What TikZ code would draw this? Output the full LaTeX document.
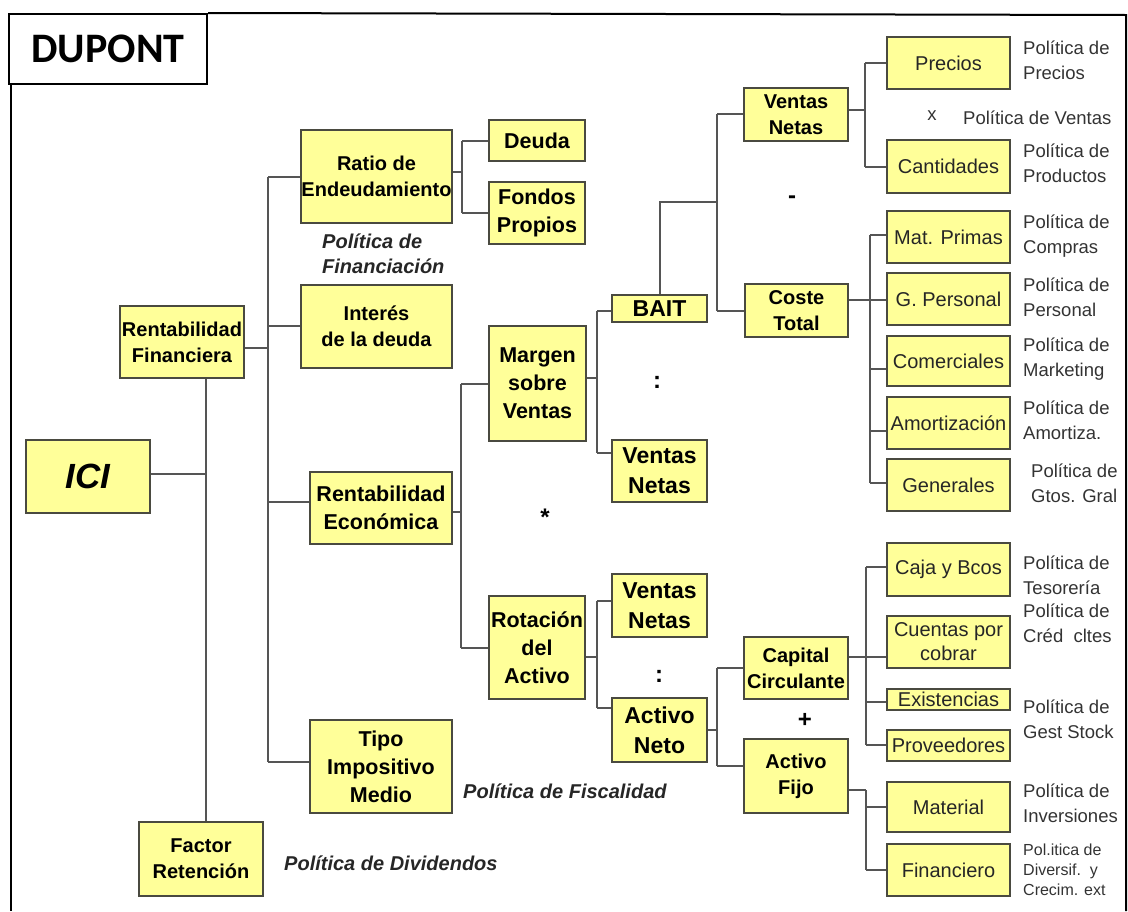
\documentclass[tikz,border=0pt]{standalone}
\usepackage{fontspec}
\setmainfont{Liberation Sans}
\newfontfamily\carlito{Carlito}
\definecolor{boxfill}{HTML}{FFFF99}
\definecolor{boxline}{HTML}{4A4A40}
\definecolor{connc}{HTML}{555555}
\newcommand\bx[7]{\node[#7, minimum width={(#4-#2)*1pt}, minimum height={(#5-#3)*1pt}] (#1) at ({(#2+#4)/2},{(#3+#5)/2}) {#6};}
\begin{document}
\begin{tikzpicture}[x=1pt,y=-1pt,
  yb/.style={draw=boxline, line width=1.4pt, fill=boxfill, inner sep=0pt, align=center, text=black},
  bb/.style={yb, font=\bfseries\fontsize{20}{26}\selectfont},
  bm/.style={yb, font=\bfseries\fontsize{21.5}{28}\selectfont},
  bl/.style={yb, font=\bfseries\fontsize{23}{30}\selectfont},
  rb/.style={yb, font=\fontsize{20}{24}\selectfont, text=black!85},
  conn/.style={draw=connc, line width=1.5pt},
  frame/.style={draw=black, line width=2pt},
  pol/.style={anchor=west, align=left, inner sep=0pt, font=\fontsize{18.5}{25}\selectfont, text=black!80},
  polsmall/.style={anchor=west, align=left, inner sep=0pt, font=\fontsize{16}{20}\selectfont, text=black!80},
  poli/.style={anchor=west, align=left, inner sep=0pt, font=\bfseries\itshape\fontsize{20}{25}\selectfont, text=black!85},
  op/.style={inner sep=0pt, font=\bfseries\fontsize{24}{24}\selectfont}]
\useasboundingbox (0,0) rectangle (1128,911);
% frame
\node[draw=black, line width=2pt, inner sep=0pt, minimum width=198pt, minimum height=70pt, font=\carlito\bfseries\fontsize{42}{42}\selectfont] (dup) at (108,49) {DUPONT};
\draw[frame] (dup.north east) -- (1126,15) -- (1126,911);
\draw[frame] (11,84) -- (11,911);
% boxes
\bx{ici}{26}{440}{150}{513}{\bfseries\itshape\fontsize{35}{35}\selectfont ICI}{yb}
\bx{rf}{120}{306}{244}{378}{Rentabilidad\\Financiera}{bb}
\bx{fr}{139}{822}{263}{896}{Factor\\Retención}{bb}
\bx{ratio}{301}{130}{452}{223}{Ratio de\\Endeudamiento}{bb}
\bx{interes}{301}{285}{452}{368}{Interés\\de la deuda}{bb}
\bx{re}{310}{472}{452}{544}{Rentabilidad\\Económica}{bm}
\bx{tipo}{310}{720}{452}{813}{Tipo\\Impositivo\\Medio}{bm}
\bx{deuda}{489}{120}{585}{161}{Deuda}{bm}
\bx{fondos}{489}{182}{585}{244}{Fondos\\Propios}{bm}
\bx{margen}{489}{326}{586}{441}{Margen\\sobre\\Ventas}{bm}
\bx{rot}{489}{596}{585}{699}{Rotación\\del\\Activo}{bm}
\bx{bait}{612}{295}{707}{322}{BAIT}{bl}
\bx{vn2}{612}{440}{707}{502}{Ventas\\Netas}{bl}
\bx{vn3}{612}{574}{707}{637}{Ventas\\Netas}{bl}
\bx{an}{612}{698}{707}{762}{Activo\\Neto}{bl}
\bx{vn1}{744}{88}{848}{141}{Ventas\\Netas}{bb}
\bx{ct}{745}{284}{848}{337}{Coste\\Total}{bb}
\bx{cc}{744}{637}{848}{699}{Capital\\Circulante}{bb}
\bx{af}{744}{739}{848}{813}{Activo\\Fijo}{bb}
\bx{precios}{887}{37}{1010}{89}{Precios}{rb}
\bx{cant}{887}{140}{1010}{193}{Cantidades}{rb}
\bx{mp}{887}{211}{1010}{263}{Mat. Primas}{rb}
\bx{gp}{887}{273}{1010}{325}{G. Personal}{rb}
\bx{com}{887}{336}{1010}{386}{Comerciales}{rb}
\bx{amo}{887}{397}{1010}{449}{Amortización}{rb}
\bx{gen}{887}{459}{1010}{511}{Generales}{rb}
\bx{caja}{887}{543}{1010}{596}{Caja y Bcos}{rb}
\bx{cxc}{887}{616}{1010}{668}{Cuentas por\\cobrar}{rb}
\bx{exi}{887}{689}{1010}{710}{Existencias}{rb}
\bx{prov}{887}{730}{1010}{761}{Proveedores}{rb}
\bx{mat}{887}{782}{1010}{832}{Material}{rb}
\bx{fin}{887}{844}{1010}{896}{Financiero}{rb}
% policy labels
\node[pol] (p1) at (1023,60) {Política de\\Precios};
\node[pol] (p2) at (963,118) {Política de Ventas};
\node[inner sep=0pt, font=\fontsize{18.5}{20}\selectfont, text=black!80] (px) at (932,116) {x};
\node[pol] (p3) at (1023,163) {Política de\\Productos};
\node[pol] (p4) at (1023,236) {Política de\\Compras};
\node[pol] (p5) at (1023,297) {Política de\\Personal};
\node[pol] (p6) at (1023,359) {Política de\\Marketing};
\node[pol] (p7) at (1023,420) {Política de\\Amortiza.};
\node[pol] (p8) at (1031,483) {Política de\\Gtos. Gral};
\node[pol] (p9) at (1023,575) {Política de\\Tesorería};
\node[pol] (p10) at (1023,623) {Política de\\Créd\ \ cltes};
\node[pol] (p11) at (1023,719) {Política de\\Gest Stock};
\node[pol] (p12) at (1023,803) {Política de\\Inversiones};
\node[polsmall] (p13) at (1023,870) {Pol.itica de\\Diversif.\ \ y\\Crecim. ext};
\node[poli] (pf) at (322,254) {Política de\\Financiación};
\node[poli] (pfis) at (463,791) {Política de Fiscalidad};
\node[poli] (pdiv) at (284,863) {Política de Dividendos};
% operators
\node[op] (o1) at (792,200) {-};
\node[op] (o2) at (657,382) {:};
\node[op] (o3) at (545,517) {*};
\node[op] (o4) at (659,676) {:};
\node[op] (o5) at (805,720) {+};
% bus coordinates
\coordinate (a0) at (206,474);
\coordinate (b1) at (268,177); \coordinate (b2) at (268,326); \coordinate (b3) at (268,348);
\coordinate (b4) at (268,502); \coordinate (b5) at (268,762);
\coordinate (c0) at (462,172); \coordinate (c1) at (462,141); \coordinate (c2) at (462,213);
\coordinate (d0) at (461,512); \coordinate (d1) at (461,384); \coordinate (d2) at (461,648);
\coordinate (e0) at (597,378); \coordinate (e1) at (597,311); \coordinate (e2) at (597,453);
\coordinate (f0) at (597,657); \coordinate (f1) at (597,601); \coordinate (f2) at (597,708);
\coordinate (g0) at (660,202); \coordinate (g1) at (717,202); \coordinate (g2) at (717,114); \coordinate (g3) at (717,311);
\coordinate (h0) at (717,730); \coordinate (h1) at (717,668); \coordinate (h2) at (717,766);
\coordinate (i0) at (865,110); \coordinate (i1) at (865,63); \coordinate (i2) at (865,167);
\coordinate (j1) at (870,235); \coordinate (j2) at (870,300); \coordinate (j3) at (870,369);
\coordinate (j4) at (870,431); \coordinate (j5) at (870,483);
\coordinate (k1) at (866,567); \coordinate (k2) at (866,657); \coordinate (k3) at (866,702); \coordinate (k4) at (866,745);
\coordinate (l0) at (866,790); \coordinate (l1) at (866,807); \coordinate (l2) at (866,870);
% connectors
\draw[conn] (rf.south -| a0) -- (fr.north -| a0);
\draw[conn] (ici.east |- a0) -- (a0);
\draw[conn] (b1) -- (b5);
\draw[conn] (b1) -- (ratio.west |- b1);
\draw[conn] (b2) -- (interes.west |- b2);
\draw[conn] (rf.east |- b3) -- (b3);
\draw[conn] (b4) -- (re.west |- b4);
\draw[conn] (b5) -- (tipo.west |- b5);
\draw[conn] (ratio.east |- c0) -- (c0);
\draw[conn] (c1) -- (c2);
\draw[conn] (c1) -- (deuda.west |- c1);
\draw[conn] (c2) -- (fondos.west |- c2);
\draw[conn] (re.east |- d0) -- (d0);
\draw[conn] (d1) -- (d2);
\draw[conn] (d1) -- (margen.west |- d1);
\draw[conn] (d2) -- (rot.west |- d2);
\draw[conn] (margen.east |- e0) -- (e0);
\draw[conn] (e1) -- (e2);
\draw[conn] (e1) -- (bait.west |- e1);
\draw[conn] (e2) -- (vn2.west |- e2);
\draw[conn] (rot.east |- f0) -- (f0);
\draw[conn] (f1) -- (f2);
\draw[conn] (f1) -- (vn3.west |- f1);
\draw[conn] (f2) -- (an.west |- f2);
\draw[conn] (bait.north -| g0) -- (g0) -- (g1);
\draw[conn] (g2) -- (g3);
\draw[conn] (g2) -- (vn1.west |- g2);
\draw[conn] (g3) -- (ct.west |- g3);
\draw[conn] (an.east |- h0) -- (h0);
\draw[conn] (h1) -- (h2);
\draw[conn] (h1) -- (cc.west |- h1);
\draw[conn] (h2) -- (af.west |- h2);
\draw[conn] (vn1.east |- i0) -- (i0);
\draw[conn] (i1) -- (i2);
\draw[conn] (i1) -- (precios.west |- i1);
\draw[conn] (i2) -- (cant.west |- i2);
\draw[conn] (j1) -- (j5);
\draw[conn] (ct.east |- j2) -- (gp.west |- j2);
\draw[conn] (j1) -- (mp.west |- j1);
\draw[conn] (j3) -- (com.west |- j3);
\draw[conn] (j4) -- (amo.west |- j4);
\draw[conn] (j5) -- (gen.west |- j5);
\draw[conn] (k1) -- (k4);
\draw[conn] (cc.east |- k2) -- (cxc.west |- k2);
\draw[conn] (k1) -- (caja.west |- k1);
\draw[conn] (k3) -- (exi.west |- k3);
\draw[conn] (k4) -- (prov.west |- k4);
\draw[conn] (af.east |- l0) -- (l0);
\draw[conn] (l0) -- (l2);
\draw[conn] (l1) -- (mat.west |- l1);
\draw[conn] (l2) -- (fin.west |- l2);
\end{tikzpicture}
\end{document}
